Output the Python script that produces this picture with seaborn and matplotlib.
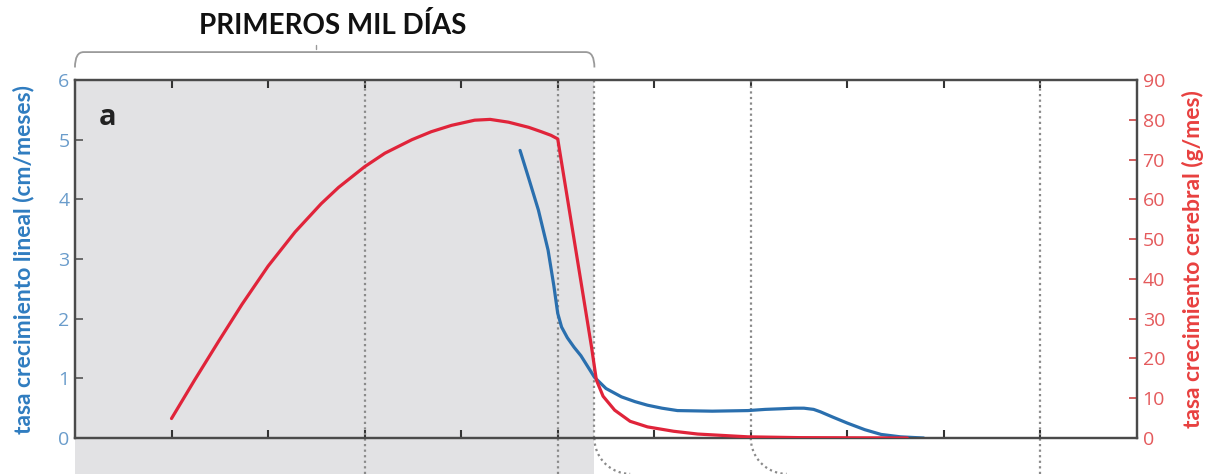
import numpy as np
import pandas as pd
import seaborn as sns
import matplotlib.pyplot as plt
from matplotlib.path import Path
from matplotlib.patches import PathPatch

### datos leidos de la figura
# tasa de crecimiento lineal (cm/meses), eje izquierdo
lineal_x = [4.61, 4.70, 4.80, 4.90, 4.96, 5.00, 5.04, 5.10, 5.17, 5.24, 5.31, 5.38, 5.50, 5.66, 5.80, 5.93, 6.08, 6.24, 6.60, 6.97, 7.15, 7.31, 7.45, 7.55, 7.65, 7.72, 7.85, 8.00, 8.18, 8.35, 8.55, 8.79]
lineal_y = [4.82, 4.35, 3.82, 3.15, 2.55, 2.09, 1.86, 1.68, 1.52, 1.38, 1.20, 1.02, 0.83, 0.69, 0.61, 0.55, 0.50, 0.46, 0.45, 0.46, 0.48, 0.49, 0.50, 0.50, 0.48, 0.44, 0.35, 0.25, 0.14, 0.06, 0.02, 0.00]

# tasa de crecimiento cerebral (g/mes), eje derecho
cerebral_x = [1.00, 1.24, 1.49, 1.73, 2.00, 2.28, 2.55, 2.73, 3.00, 3.21, 3.49, 3.69, 3.90, 4.14, 4.30, 4.49, 4.70, 4.83, 4.93, 5.00, 5.10, 5.24, 5.35, 5.40, 5.47, 5.59, 5.75, 5.93, 6.20, 6.45, 6.97, 7.50, 8.62]
cerebral_y = [4.9, 14.6, 24.4, 33.6, 43.2, 51.8, 58.9, 63.0, 68.2, 71.6, 75.0, 77.0, 78.6, 79.9, 80.1, 79.4, 78.1, 77.0, 76.1, 75.2, 60.3, 39.4, 22.9, 14.6, 10.5, 7.0, 4.2, 2.8, 1.7, 1.0, 0.3, 0.1, 0.0]

x_ticks = list(range(1, 11))
y_left_ticks = [0, 1, 2, 3, 4, 5, 6]
y_right_ticks = [0, 10, 20, 30, 40, 50, 60, 70, 80, 90]
lineas_punteadas = [3, 5, 5.38, 7, 10]
fin_mil_dias = 5.38

titulo = 'PRIMEROS MIL DÍAS'
label_izq = 'tasa crecimiento lineal (cm/meses)'
label_der = 'tasa crecimiento cerebral (g/mes)'

AZUL = '#2a6fae'
ROJO = '#e0243a'
GRIS = '#e2e2e4'
PUNTOS = '#8a8a8a'

sns.set_style('white')
plt.rcParams['font.family'] = ['Open Sans', 'DejaVu Sans']

fig = plt.figure(figsize=(12.05, 4.74), dpi=100)
ax = fig.add_axes([0.0622, 0.0759, 0.8814, 0.7553])
ax2 = ax.twinx()

lineal = pd.DataFrame({'x': lineal_x, 'y': lineal_y})
cerebral = pd.DataFrame({'x': cerebral_x, 'y': cerebral_y})

## zona gris de los primeros mil dias (sigue por debajo del eje)
ax.axvspan(0, fin_mil_dias, ymin=-0.1, ymax=1, color=GRIS, lw=0, clip_on=False, zorder=0)

for xv in lineas_punteadas:
    ymin = 0 if xv in (5.38, 7) else -0.1
    ax.axvline(xv, ymin=ymin, ymax=1, color=PUNTOS, ls=(0, (1, 1.5)), lw=1.6, clip_on=False, zorder=1)

## curvas punteadas bajo el eje
trans_px = ax.get_xaxis_transform()
for xv in (5.38, 7):
    t = np.linspace(0, np.pi / 2, 30)
    ax.plot(xv + 0.37 * (1 - np.cos(t)), -0.1 * np.sin(t), transform=trans_px,
            color=PUNTOS, ls=(0, (1, 1.5)), lw=1.6, clip_on=False)

sns.lineplot(data=lineal, x='x', y='y', ax=ax, color=AZUL, linewidth=2.3, zorder=3)
sns.lineplot(data=cerebral, x='x', y='y', ax=ax2, color=ROJO, linewidth=2.3, zorder=3)

ax.set_xlim(0, 11)
ax.set_ylim(0, 6)
ax2.set_ylim(0, 90)
ax.set_xticks(x_ticks)
ax.set_xticklabels([])
ax.set_yticks(y_left_ticks)
ax2.set_yticks(y_right_ticks)
ax.set_xlabel('')
ax2.set_xlabel('')
ax.set_ylabel(label_izq, color='#2f7cc0', fontsize=16.5, fontweight='bold', family=['Lato', 'DejaVu Sans'], labelpad=17)
ax2.set_ylabel(label_der, color='#e8403f', fontsize=16.5, fontweight='bold', family=['Lato', 'DejaVu Sans'], labelpad=12)

ax.tick_params(axis='x', direction='in', length=6, width=1.5, color='#333333', top=True, bottom=True)
ax.tick_params(axis='y', direction='in', length=6, width=1.2, color='#555555', labelcolor='#6a9ccb', labelsize=14, pad=4)
ax2.tick_params(axis='y', direction='in', length=6, width=1.2, color='#cc4444', labelcolor='#e45a5c', labelsize=14, pad=4)

for a in (ax, ax2):
    for s in a.spines.values():
        s.set_color('#4a4a4a')
        s.set_linewidth(1.6)
    a.grid(False)

ax.set_zorder(1)
ax2.set_zorder(2)
ax.patch.set_alpha(0)

ax.text(0.022, 0.935, 'a', transform=ax.transAxes, fontsize=21, fontweight='bold',
        family=['Open Sans', 'DejaVu Sans'], color='#222222', va='top', ha='left')

## llave superior
y_top = 1.078
y_fin = 1.035
dx = 0.09
verts = [(0, y_fin), (0, y_top), (dx, y_top), (fin_mil_dias - dx, y_top),
         (fin_mil_dias, y_top), (fin_mil_dias, y_fin)]
codes = [Path.MOVETO, Path.CURVE3, Path.CURVE3, Path.LINETO, Path.CURVE3, Path.CURVE3]
llave = PathPatch(Path(verts, codes), transform=trans_px, fill=False, edgecolor='#9a9a9a', lw=1.3, clip_on=False)
ax.add_patch(llave)
ax.plot([2.5, 2.5], [1.088, 1.098], transform=trans_px, color='#9a9a9a', lw=1.0, clip_on=False)

fig.text(333 / 1205, 1 - 25 / 474, titulo, ha='center', va='center', fontsize=20, fontweight='bold',
         family=['Lato', 'DejaVu Sans'], color='#111111')

plt.savefig('out.png', dpi=100)
